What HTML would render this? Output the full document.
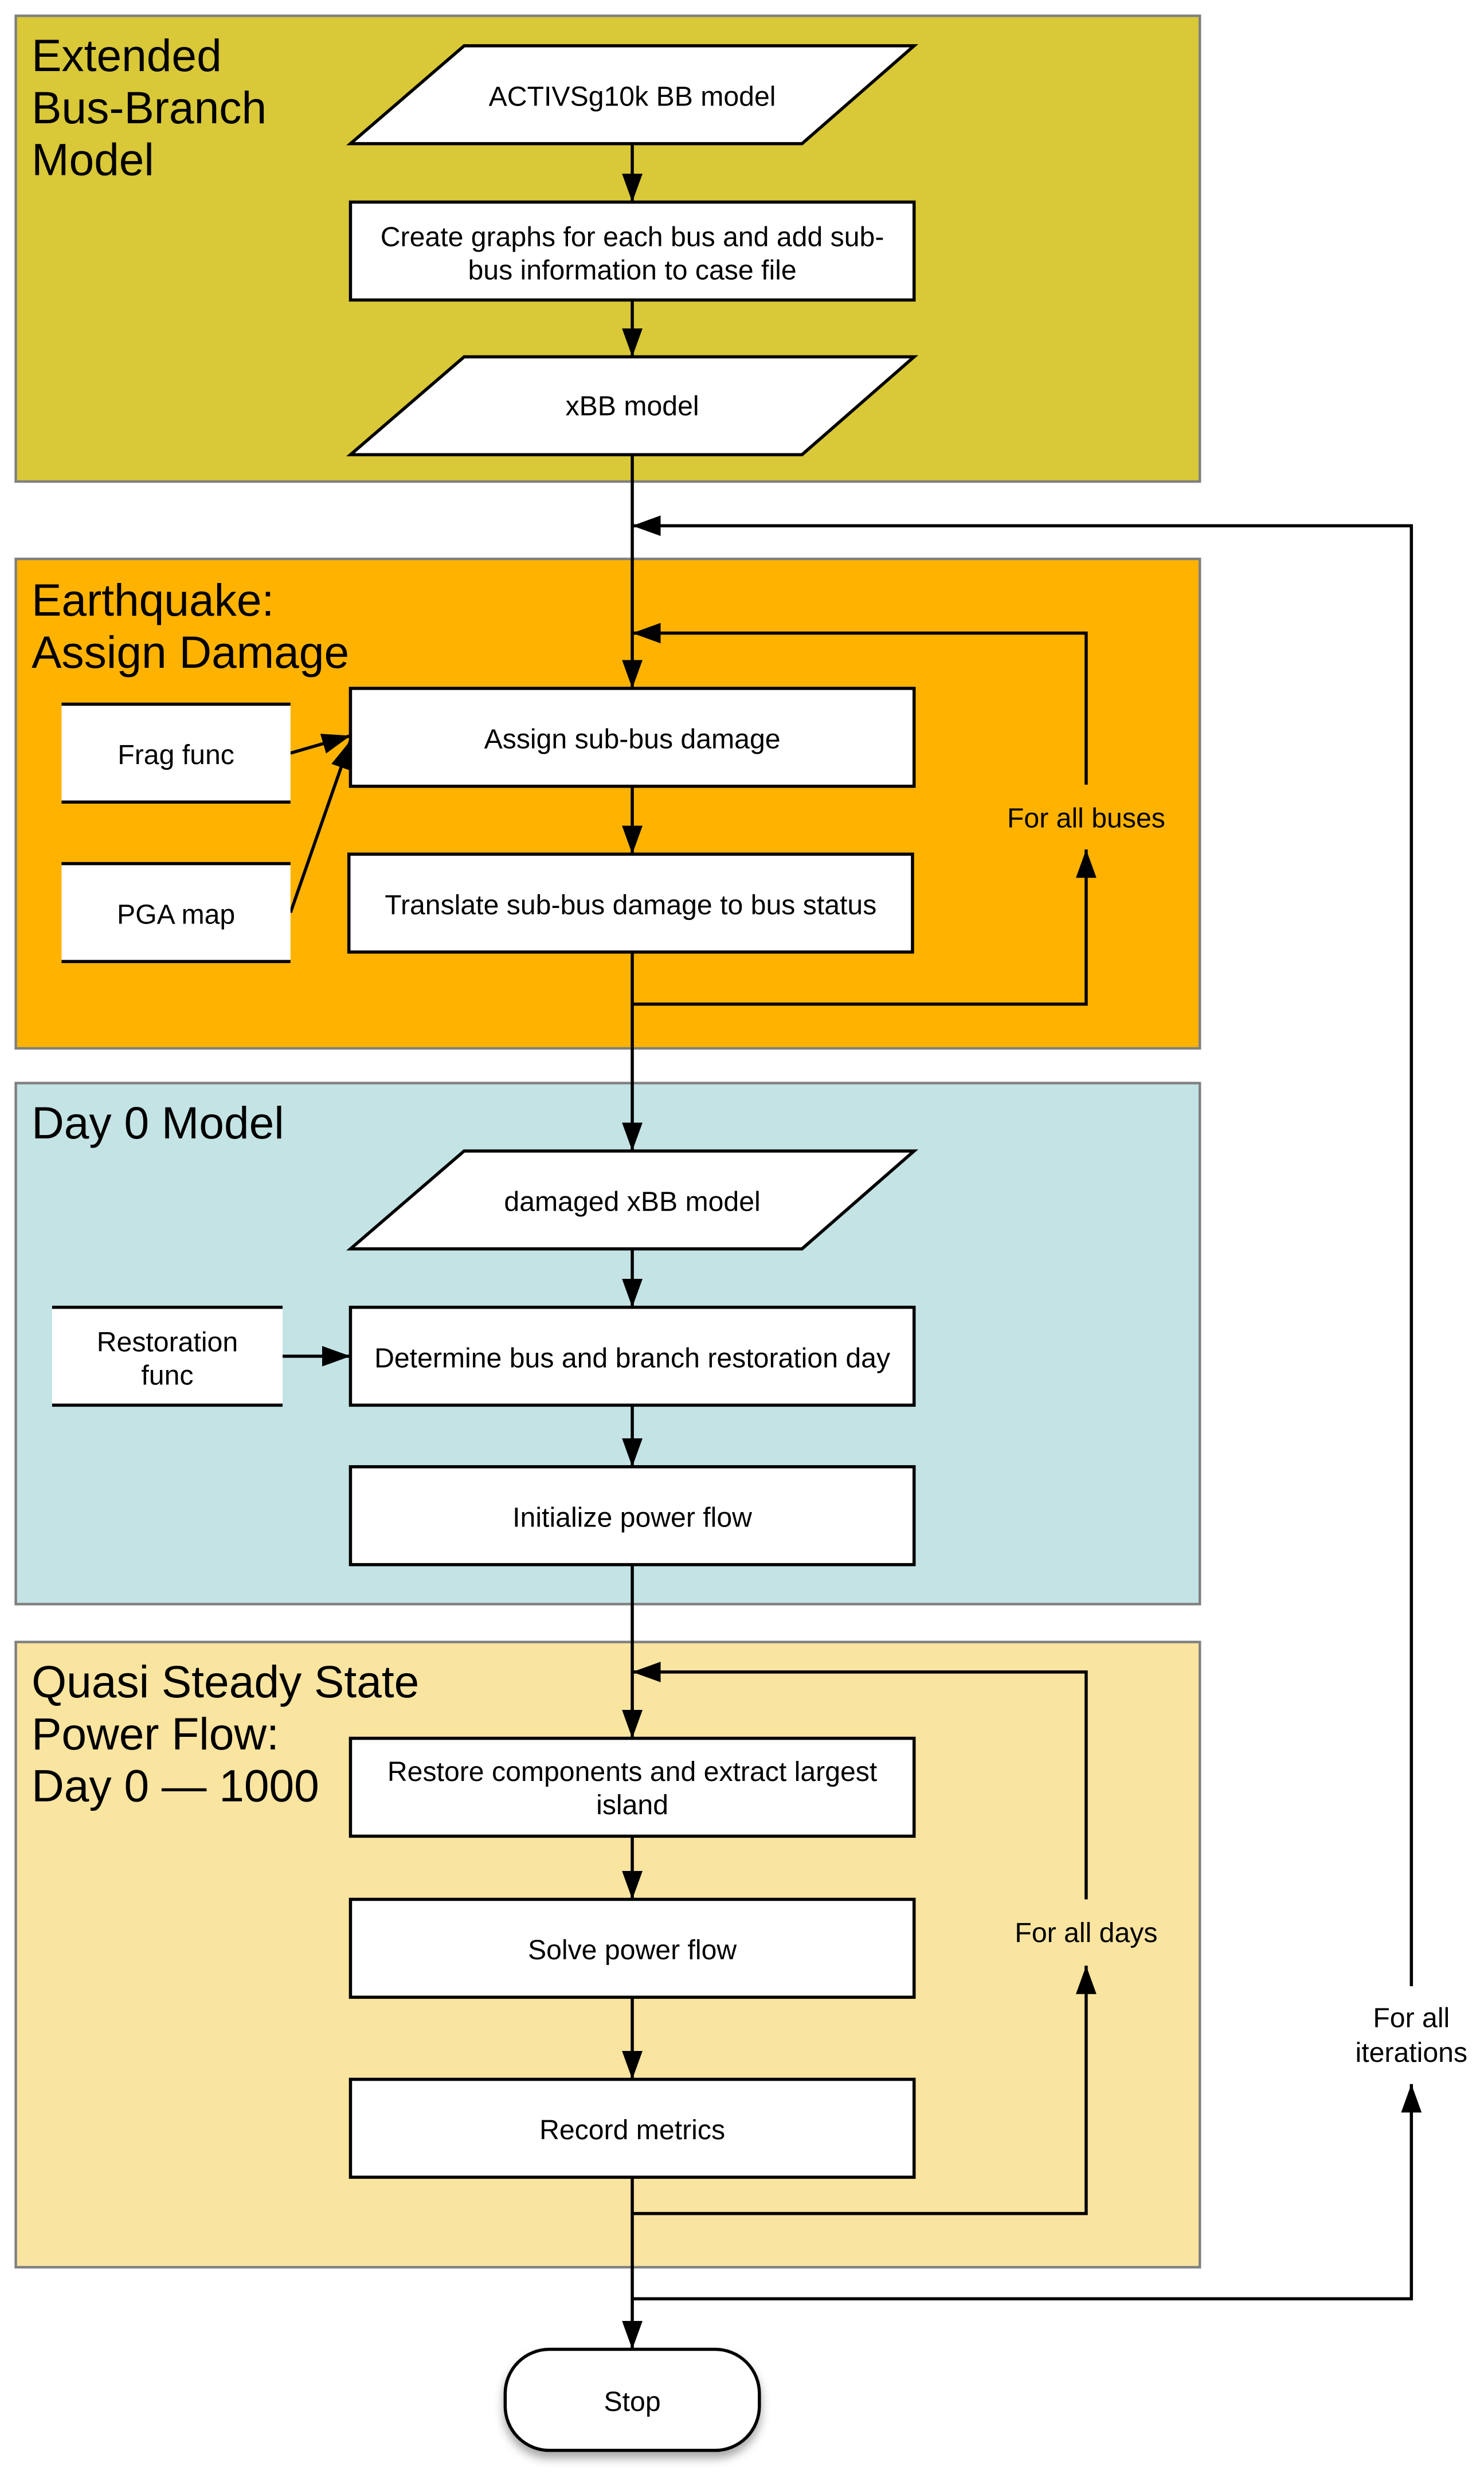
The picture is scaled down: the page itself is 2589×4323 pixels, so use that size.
<!DOCTYPE html>
<html><head><meta charset="utf-8"><style>
html,body{margin:0;padding:0;background:#fff;}
svg{display:block;}
text{font-family:"Liberation Sans",Arial,sans-serif;fill:#000;}
.t{font-size:17.5px;text-anchor:middle;}
.h{font-size:28.5px;}
.b{fill:#fff;stroke:#000;stroke-width:2;}
.l{fill:none;stroke:#000;stroke-width:2;}
.p{stroke:#808080;stroke-width:1.6;}
</style></head><body>
<svg width="2589" height="4323" viewBox="0 0 940 1569.5" preserveAspectRatio="none" xmlns="http://www.w3.org/2000/svg">
<defs>
<marker id="a" markerUnits="userSpaceOnUse" markerWidth="20" markerHeight="14" refX="18" refY="6.5" orient="auto"><path d="M0,0 L18,6.5 L0,13 z" fill="#000"/></marker>
<filter id="sh" x="-20%" y="-20%" width="140%" height="160%"><feDropShadow dx="0" dy="4" stdDeviation="3" flood-color="#000" flood-opacity="0.35"/></filter>
</defs>
<rect width="940" height="1569.5" fill="#fff"/>
<rect class="p" x="10" y="10" width="750" height="295" fill="#D9C837"/>
<rect class="p" x="10" y="354" width="750" height="310" fill="#FFB300"/>
<rect class="p" x="10" y="686" width="750" height="330" fill="#C4E3E5"/>
<rect class="p" x="10" y="1040" width="750" height="396" fill="#F9E4A0"/>
<text class="h" x="20" y="45">Extended</text>
<text class="h" x="20" y="78">Bus-Branch</text>
<text class="h" x="20" y="111">Model</text>
<text class="h" x="20" y="390">Earthquake:</text>
<text class="h" x="20" y="423">Assign Damage</text>
<text class="h" x="20" y="721">Day 0 Model</text>
<text class="h" x="20" y="1075">Quasi Steady State</text>
<text class="h" x="20" y="1108">Power Flow:</text>
<text class="h" x="20" y="1141">Day 0 — 1000</text>
<line class="l" x1="400.5" y1="91" x2="400.5" y2="128" marker-end="url(#a)"/>
<line class="l" x1="400.5" y1="190" x2="400.5" y2="226" marker-end="url(#a)"/>
<line class="l" x1="400.5" y1="288" x2="400.5" y2="436" marker-end="url(#a)"/>
<polyline class="l" points="894,1258 894,333 400.5,333" marker-end="url(#a)"/>
<polyline class="l" points="400.5,1456 894,1456 894,1320" marker-end="url(#a)"/>
<polyline class="l" points="688,497 688,401 400.5,401" marker-end="url(#a)"/>
<polyline class="l" points="400.5,636 688,636 688,538" marker-end="url(#a)"/>
<line class="l" x1="184" y1="477" x2="222" y2="466" marker-end="url(#a)"/>
<line class="l" x1="184" y1="578" x2="222" y2="469" marker-end="url(#a)"/>
<line class="l" x1="400.5" y1="498" x2="400.5" y2="541" marker-end="url(#a)"/>
<line class="l" x1="400.5" y1="603" x2="400.5" y2="729" marker-end="url(#a)"/>
<line class="l" x1="400.5" y1="791" x2="400.5" y2="828" marker-end="url(#a)"/>
<line class="l" x1="179" y1="859" x2="222" y2="859" marker-end="url(#a)"/>
<line class="l" x1="400.5" y1="890" x2="400.5" y2="929" marker-end="url(#a)"/>
<line class="l" x1="400.5" y1="991" x2="400.5" y2="1101" marker-end="url(#a)"/>
<polyline class="l" points="688,1203 688,1059 400.5,1059" marker-end="url(#a)"/>
<polyline class="l" points="400.5,1402 688,1402 688,1245" marker-end="url(#a)"/>
<line class="l" x1="400.5" y1="1163" x2="400.5" y2="1203" marker-end="url(#a)"/>
<line class="l" x1="400.5" y1="1265" x2="400.5" y2="1317" marker-end="url(#a)"/>
<line class="l" x1="400.5" y1="1379" x2="400.5" y2="1488" marker-end="url(#a)"/>
<text class="t" x="688" y="524">For all buses</text>
<text class="t" x="688" y="1230">For all days</text>
<text class="t" x="894" y="1284">For all</text>
<text class="t" x="894" y="1306">iterations</text>
<polygon class="b" points="294,29 579,29 508,91 222,91"/>
<text class="t" x="400.5" y="67">ACTIVSg10k BB model</text>
<rect class="b" x="222" y="128" width="357" height="62"/>
<text class="t" x="400.5" y="156">Create graphs for each bus and add sub-</text>
<text class="t" x="400.5" y="177">bus information to case file</text>
<polygon class="b" points="294,226 579,226 508,288 222,288"/>
<text class="t" x="400.5" y="263">xBB model</text>
<rect class="b" x="222" y="436" width="357" height="62"/>
<text class="t" x="400.5" y="474">Assign sub-bus damage</text>
<rect x="39" y="446" width="145" height="62" fill="#fff"/>
<line class="l" x1="39" y1="446" x2="184" y2="446"/><line class="l" x1="39" y1="508" x2="184" y2="508"/>
<text class="t" x="111.5" y="484">Frag func</text>
<rect x="39" y="547" width="145" height="62" fill="#fff"/>
<line class="l" x1="39" y1="547" x2="184" y2="547"/><line class="l" x1="39" y1="609" x2="184" y2="609"/>
<text class="t" x="111.5" y="585">PGA map</text>
<rect class="b" x="221" y="541" width="357" height="62"/>
<text class="t" x="399.5" y="579">Translate sub-bus damage to bus status</text>
<polygon class="b" points="294,729 579,729 508,791 222,791"/>
<text class="t" x="400.5" y="767">damaged xBB model</text>
<rect x="33" y="828" width="146" height="62" fill="#fff"/>
<line class="l" x1="33" y1="828" x2="179" y2="828"/><line class="l" x1="33" y1="890" x2="179" y2="890"/>
<text class="t" x="106" y="856">Restoration</text>
<text class="t" x="106" y="877">func</text>
<rect class="b" x="222" y="828" width="357" height="62"/>
<text class="t" x="400.5" y="866">Determine bus and branch restoration day</text>
<rect class="b" x="222" y="929" width="357" height="62"/>
<text class="t" x="400.5" y="967">Initialize power flow</text>
<rect class="b" x="222" y="1101" width="357" height="62"/>
<text class="t" x="400.5" y="1128">Restore components and extract largest</text>
<text class="t" x="400.5" y="1149">island</text>
<rect class="b" x="222" y="1203" width="357" height="62"/>
<text class="t" x="400.5" y="1241">Solve power flow</text>
<rect class="b" x="222" y="1317" width="357" height="62"/>
<text class="t" x="400.5" y="1355">Record metrics</text>
<rect class="b" x="320" y="1488" width="161" height="64" rx="28" ry="28" filter="url(#sh)"/>
<text class="t" x="400.5" y="1527">Stop</text>
</svg>
</body></html>
